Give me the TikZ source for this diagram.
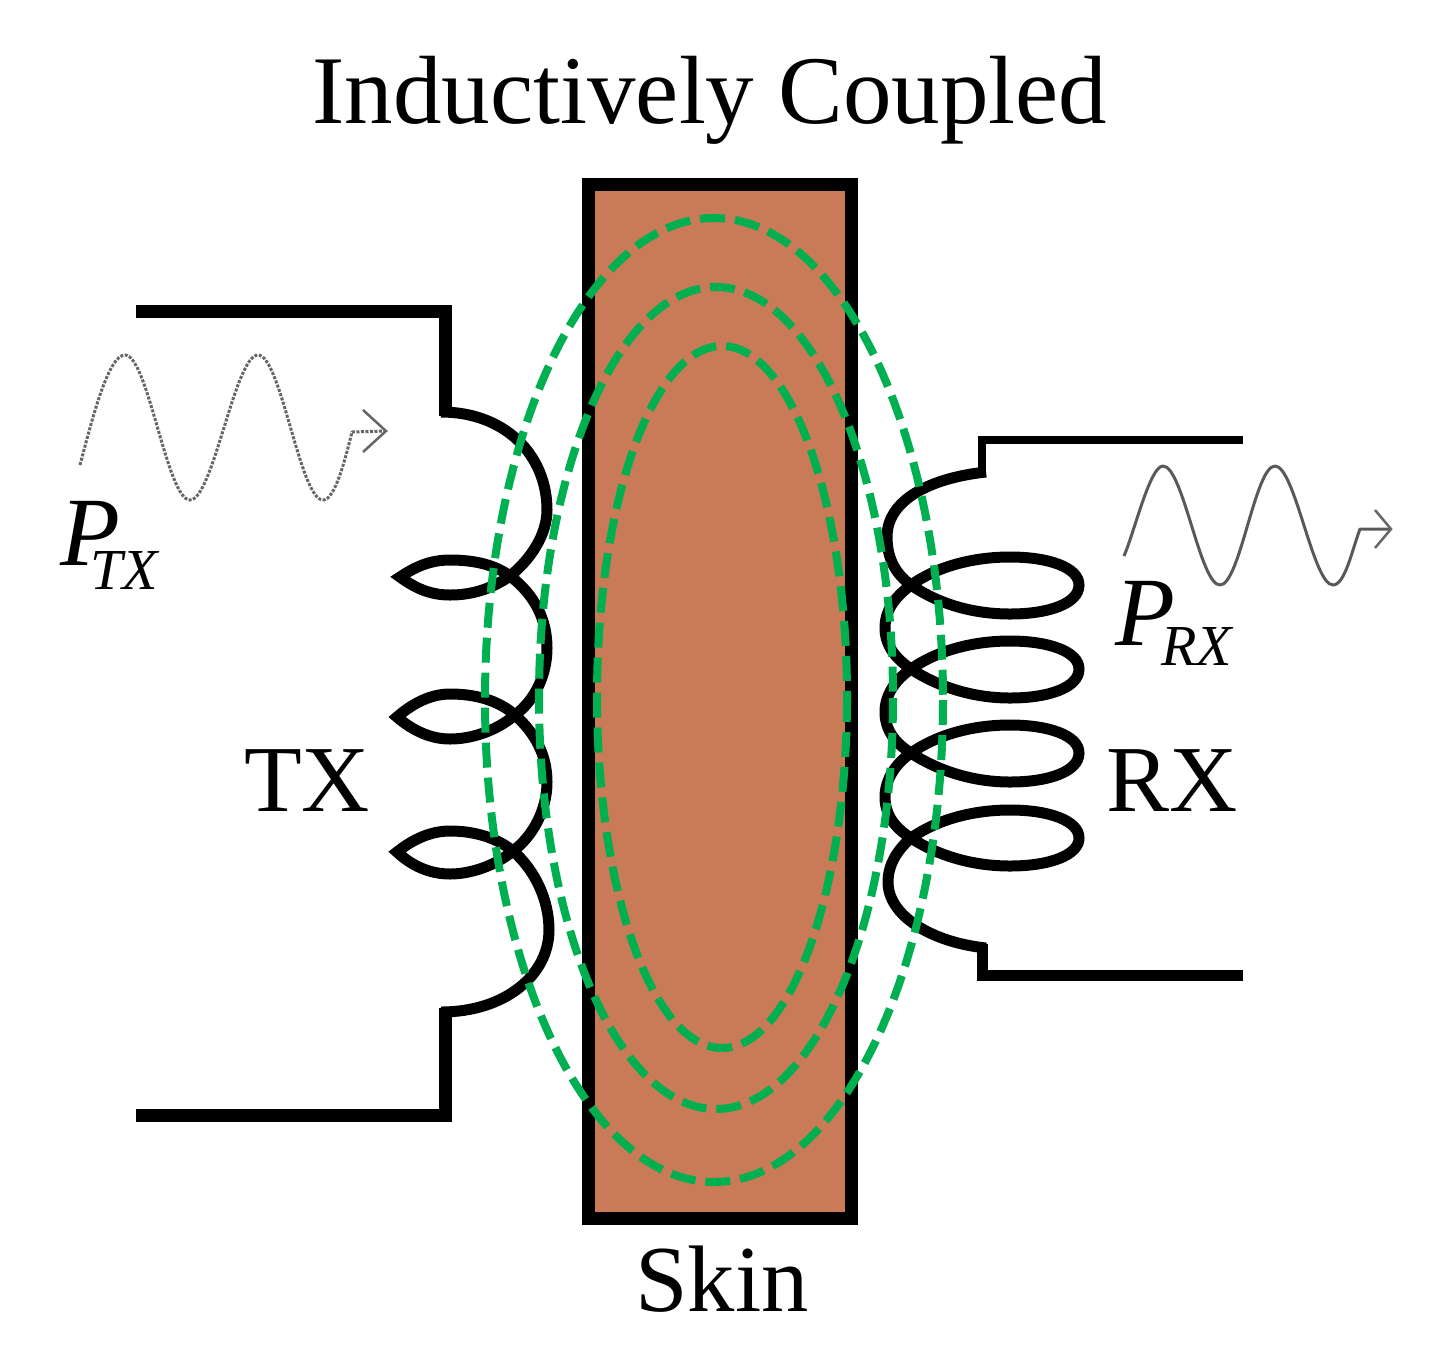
\documentclass[tikz,border=0pt]{standalone}
\usepackage{fontspec}
\setmainfont{Liberation Serif}
\definecolor{skinc}{RGB}{200,123,86}
\definecolor{fieldg}{RGB}{0,176,80}
\tikzset{
  wireA/.style={line width=13pt,line join=miter},
  wireB/.style={line width=8pt,line join=miter},
  wireC/.style={line width=11pt,line join=miter},
  coilline/.style={line width=11pt,line join=miter,miter limit=6},
  field/.style={draw=fieldg,line width=8pt,dash pattern=on 25pt off 10pt},
  wave/.style={line width=3pt,draw=black!60,line join=round,dash pattern=on 3pt off 1.5pt},
  wavedark/.style={line width=3pt,draw=black!65,line join=round},
  headl/.style={line width=2.5pt,draw=black!60},
  lab/.style={inner sep=0pt,font=\fontsize{94.5}{100}\selectfont,anchor=base},
}
\begin{document}
\begin{tikzpicture}[x=1pt,y=-1pt]
\useasboundingbox (0,0) rectangle (1432,1353);
% skin
\draw[fill=skinc,line width=13pt,line join=miter] (588.5,184.5) rectangle (851.5,1218.5);
% TX wires
\draw[wireA] (136,311) -- (445,311) -- (445,416);
\draw[wireA] (136,1115) -- (445,1115) -- (445,1008);
% TX coil
\draw[coilline] (441,412) .. controls (505,412) and (547,455) .. (547,510)
  .. controls (547,535) and (530,560) .. (510,576)
  .. controls (490,590) and (470,595) .. (450,595)
  .. controls (430,595) and (415,588) .. (400,577)
  .. controls (415,567) and (430,560) .. (450,560)
  .. controls (475,560) and (495,565) .. (510,576)
  .. controls (535,595) and (547,620) .. (547,648)
  .. controls (547,675) and (535,700) .. (515,715)
  .. controls (495,732) and (470,739) .. (450,739)
  .. controls (430,739) and (412,730) .. (397,717)
  .. controls (412,704) and (430,694) .. (450,694)
  .. controls (475,694) and (498,700) .. (515,715)
  .. controls (535,733) and (547,755) .. (547,782)
  .. controls (547,810) and (533,836) .. (513,851)
  .. controls (495,866) and (470,874) .. (450,874)
  .. controls (430,874) and (412,866) .. (397,852)
  .. controls (412,840) and (430,831) .. (450,831)
  .. controls (475,831) and (497,838) .. (513,851)
  .. controls (535,870) and (549,900) .. (549,930)
  .. controls (549,975) and (505,1012) .. (441,1012);
% RX wires
\draw[wireB] (1243,440) -- (982,440) -- (982,476);
\draw[wireC] (1243,975) -- (982,975) -- (982,944);
% RX coil
\draw[coilline] (986,472) .. controls (930,478) and (887,500) .. (887,537)
  .. controls (887,560) and (897,575) .. (911,585)
  .. controls (940,605) and (975,614) .. (1010,614)
  .. controls (1050,614) and (1079,603) .. (1079,585)
  .. controls (1079,568) and (1050,557) .. (1010,557)
  .. controls (970,557) and (935,568) .. (911,585)
  .. controls (895,597) and (885,610) .. (885,628)
  .. controls (885,645) and (895,658) .. (911,669)
  .. controls (940,688) and (975,698) .. (1010,698)
  .. controls (1050,698) and (1079,687) .. (1079,669)
  .. controls (1079,652) and (1050,641) .. (1010,641)
  .. controls (970,641) and (935,652) .. (911,669)
  .. controls (895,680) and (885,695) .. (885,712)
  .. controls (885,730) and (895,743) .. (911,753)
  .. controls (940,772) and (975,782) .. (1010,782)
  .. controls (1050,782) and (1079,771) .. (1079,753)
  .. controls (1079,736) and (1050,725) .. (1010,725)
  .. controls (970,725) and (935,736) .. (911,753)
  .. controls (895,764) and (885,780) .. (885,797)
  .. controls (885,815) and (895,828) .. (911,838)
  .. controls (940,857) and (975,866) .. (1010,866)
  .. controls (1050,866) and (1079,855) .. (1079,838)
  .. controls (1079,821) and (1050,810) .. (1010,810)
  .. controls (970,810) and (935,821) .. (911,838)
  .. controls (897,850) and (888,865) .. (888,882)
  .. controls (888,915) and (930,942) .. (986,948);
% field ellipses
\draw[field] (714,700) ellipse [x radius=229,y radius=482];
\draw[field] (716,698) ellipse [x radius=177,y radius=411];
\draw[field] (722,697) ellipse [x radius=125,y radius=351];
% waves
\draw[wave] (80,465) .. controls (92,420) and (108,355) .. (125,355)
  .. controls (148,355) and (167,500) .. (190,500)
  .. controls (213,500) and (235,355) .. (258,355)
  .. controls (281,355) and (300,500) .. (323,500)
  .. controls (335,500) and (345,460) .. (352,432) -- (385,431);
\draw[headl] (363,410) -- (386,431) -- (363,452);
\draw[wavedark] (1124,556) .. controls (1135,530) and (1150,466) .. (1163,466)
  .. controls (1183,466) and (1200,585) .. (1220,585)
  .. controls (1240,585) and (1255,466) .. (1275,466)
  .. controls (1295,466) and (1313,585) .. (1333,585)
  .. controls (1345,585) and (1352,550) .. (1360,529) -- (1390,529);
\draw[headl] (1375,510) -- (1391,529) -- (1375,548);
% text
\node[inner sep=0pt,anchor=base,font=\fontsize{97}{100}\selectfont] (title) at (710,123) {Inductively Coupled};
\node[lab] (skin) at (722,1311) {Skin};
\node[lab] (tx) at (307,811) {TX};
\node[lab] (rx) at (1172,811) {RX};
\node[inner sep=0pt,anchor=base west,font=\fontsize{98}{100}\selectfont\itshape] (ptx) at (60,565) {P\kern-30pt\raisebox{-24pt}{\fontsize{58}{60}\selectfont TX}};
\node[inner sep=0pt,anchor=base west,font=\fontsize{98}{100}\selectfont\itshape] (prx) at (1115,645) {P\kern-14pt\raisebox{-20pt}{\fontsize{58}{60}\selectfont RX}};
\end{tikzpicture}
\end{document}
